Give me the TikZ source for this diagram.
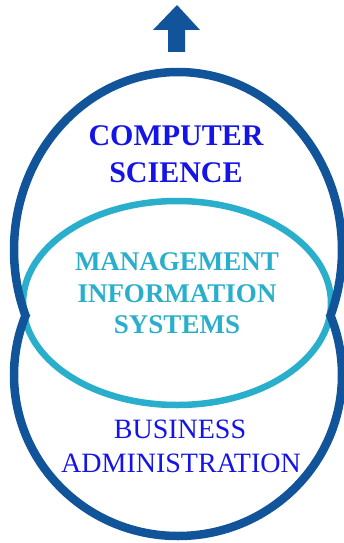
\documentclass[tikz,border=0pt]{standalone}
\usepackage{fontspec}
\setmainfont{Liberation Serif}
\definecolor{ringblue}{RGB}{17,84,153}
\definecolor{ringcyan}{RGB}{41,174,203}
\definecolor{textblue}{RGB}{20,20,230}

\tikzset{
  outerring/.style={draw=ringblue, line width=8.5pt},
  innerring/.style={draw=ringcyan, line width=6.5pt},
  cslabel/.style={anchor=base, inner sep=0pt, text=textblue, font=\fontsize{30}{36}\selectfont\bfseries},
  mislabel/.style={anchor=base, inner sep=0pt, text=ringcyan, font=\fontsize{27}{31}\selectfont\bfseries},
  balabel/.style={anchor=base, inner sep=0pt, text=textblue, font=\fontsize{28}{31}\selectfont}
}

\begin{document}
\begin{tikzpicture}[x=1pt,y=-1pt]
		\useasboundingbox (0,0) rectangle (344,543);

		% up arrow
		\fill[ringblue] (168,52) -- (168,30) -- (153,30) -- (177,5) -- (200,30) -- (185,30) -- (185,52) -- cycle;

		% inner ring
		\draw[innerring] (177,303) ellipse (154 and 102);

		% outer rings, only the outline of both
		\begin{scope}
			\clip (-10,-10) rectangle (360,315);
			\draw[outerring] (178,250) ellipse (164 and 178);
		\end{scope}
		\begin{scope}
			\clip (-10,315) rectangle (360,560);
			\draw[outerring] (178,375) ellipse (164 and 161);
		\end{scope}

		% labels
		\node[cslabel] (cs1) at (176,145) {COMPUTER};
		\node[cslabel] (cs2) at (176,182) {SCIENCE};

		\node[mislabel] (mis1) at (177,270) {MANAGEMENT};
		\node[mislabel] (mis2) at (177,302) {INFORMATION};
		\node[mislabel] (mis3) at (177,333) {SYSTEMS};

		\node[balabel] (ba1) at (180,438) {BUSINESS};
		\node[balabel] (ba2) at (181,472) {ADMINISTRATION};
\end{tikzpicture}
\end{document}
